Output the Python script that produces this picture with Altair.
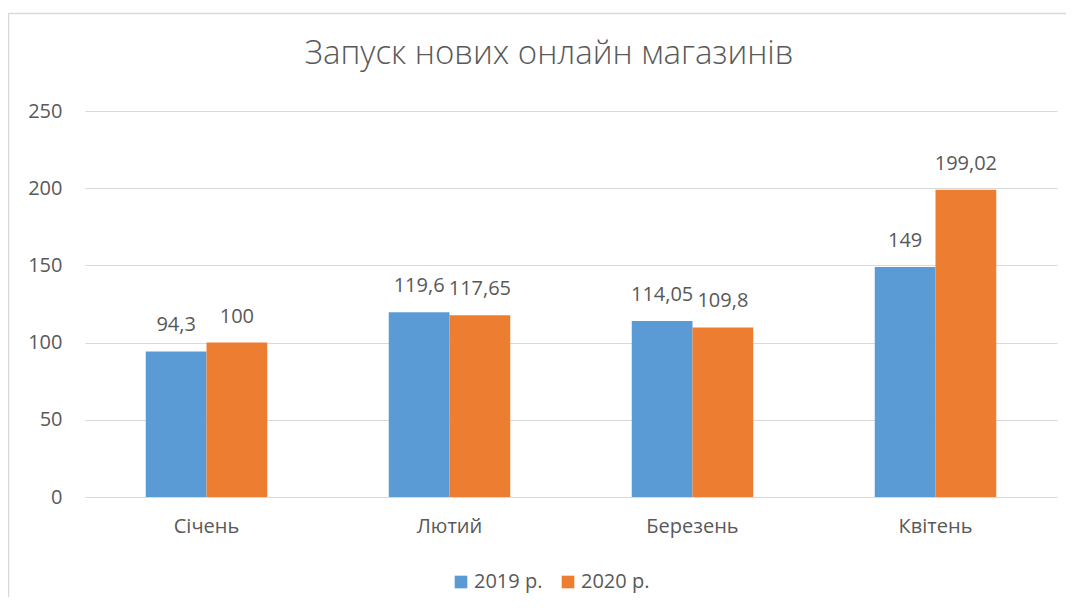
import altair as alt
import pandas as pd

title_text = "Запуск нових онлайн магазинів"
months = ["Січень", "Лютий", "Березень", "Квітень"]
years = ["2019 р.", "2020 р."]
values_2019 = [94.3, 119.6, 114.05, 149]
values_2020 = [100, 117.65, 109.8, 199.02]
labels_2019 = ["94,3", "119,6", "114,05", "149"]
labels_2020 = ["100", "117,65", "109,8", "199,02"]
colors = ["#5B9BD5", "#ED7D31"]

rows = []
for i, m in enumerate(months):
    rows.append({"month": m, "year": years[0], "value": values_2019[i], "label": labels_2019[i]})
    rows.append({"month": m, "year": years[1], "value": values_2020[i], "label": labels_2020[i]})
df = pd.DataFrame(rows)

FONT = "Open Sans"
GRAY = "#595959"

base = alt.Chart(df).encode(
    x=alt.X("month:N", sort=months, title=None,
            scale=alt.Scale(paddingInner=0, paddingOuter=0),
            axis=alt.Axis(labelAngle=0, ticks=False, domain=False, labelPadding=19,
                          labelFontSize=20, labelColor=GRAY, labelFont=FONT)),
    xOffset=alt.XOffset("year:N", sort=years,
                        scale=alt.Scale(paddingInner=0, paddingOuter=1)),
    y=alt.Y("value:Q", title=None,
            scale=alt.Scale(domain=[0, 250], nice=False),
            axis=alt.Axis(values=[0, 50, 100, 150, 200, 250], ticks=False, domain=False,
                          gridColor="#D9D9D9", gridWidth=1, labelPadding=23,
                          labelFontSize=20, labelColor=GRAY, labelFont=FONT)),
)

bars = base.mark_bar().encode(
    color=alt.Color("year:N", sort=years, scale=alt.Scale(domain=years, range=colors),
                    legend=alt.Legend(title=None, orient="none", direction="horizontal",
                                      legendX=366, legendY=461, symbolType="square",
                                      symbolSize=160, symbolStrokeWidth=0,
                                      labelFontSize=20, labelColor=GRAY, labelFont=FONT,
                                      columnPadding=15, labelOffset=3))
)

text = base.mark_text(dy=-20, baseline="alphabetic", fontSize=20, color=GRAY, font=FONT).encode(
    text="label:N"
)

border = alt.Chart(pd.DataFrame({"a": [0]})).mark_rect(
    fill="transparent", stroke="#D9D9D9", strokeWidth=1.5
).encode(x=alt.value(-76.5), x2=alt.value(1200), y=alt.value(-97.5), y2=alt.value(700))

title = alt.Chart(pd.DataFrame({"t": [title_text]})).mark_text(
    fontSize=33, font=FONT, fontWeight=300, color=GRAY, baseline="alphabetic", align="center"
).encode(text="t:N", x=alt.value(464), y=alt.value(-47))

chart = alt.layer(border, bars, text, title).properties(
    width=972, height=386,
    autosize=alt.AutoSizeParams(type="none"),
    padding={"left": 77, "top": 103, "right": 9, "bottom": 100},
).configure(background="white").configure_view(stroke=None)

chart.save("out.html", embed_options={"renderer": "svg", "actions": False})
